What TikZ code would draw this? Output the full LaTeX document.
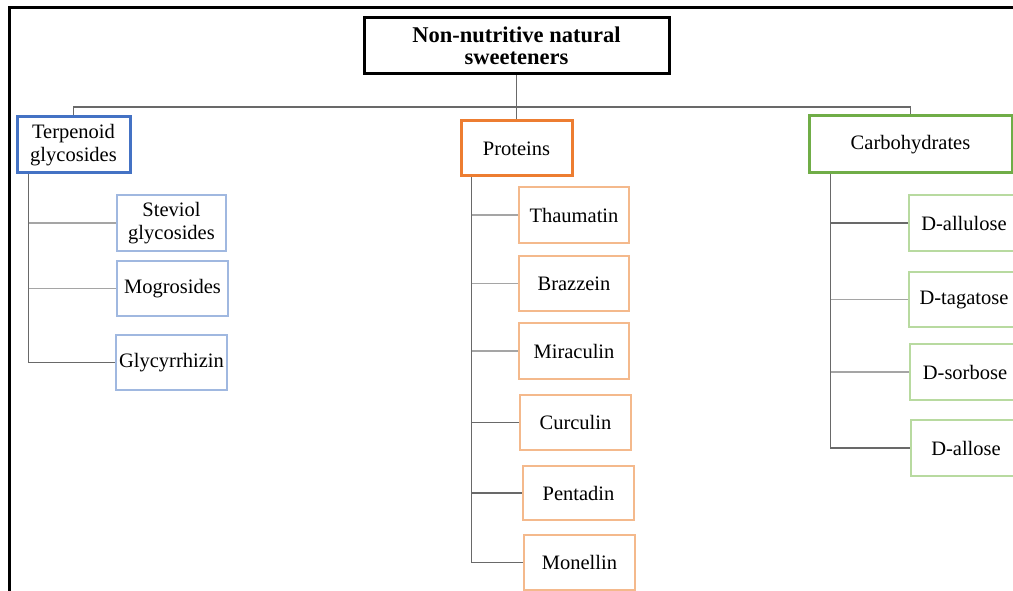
\documentclass[tikz,border=0pt]{standalone}
\usepackage{fontspec}
\setmainfont{Liberation Serif}
\usepackage{tikz}
\definecolor{catblue}{RGB}{68,114,196}
\definecolor{catorange}{RGB}{237,125,49}
\definecolor{catgreen}{RGB}{112,173,71}
\definecolor{leafblue}{RGB}{160,184,224}
\definecolor{leaforange}{RGB}{244,185,140}
\definecolor{leafgreen}{RGB}{184,218,160}
\definecolor{linkdark}{RGB}{105,105,105}
\definecolor{linklight}{RGB}{165,165,165}

\begin{document}
\begin{tikzpicture}[x=1pt, y=-1pt,
    txt/.style={font=\fontsize{20.5}{23}\selectfont},
    cat/.style={draw, txt, line width=3pt, inner sep=0pt, align=center},
    leaf/.style={draw, txt, line width=1.6pt, inner sep=0pt, align=center,
                 minimum width=110pt, minimum height=55pt},
    link/.style={draw=linkdark, line width=1.9pt},
    lightlink/.style={draw=linklight, line width=1.9pt}]
  \clip (0,0) rectangle (1013,591);
  \draw[line width=3pt] (9,591) -- (9,8) -- (1013,8);

  \node[cat, minimum width=305pt, minimum height=56pt,
        font=\fontsize{22.5}{22}\selectfont\bfseries] (root) at (516.5,46)
        {Non-nutritive natural\\sweeteners};
  \node[cat, draw=catblue, minimum width=113pt, minimum height=56pt] (terp) at (73.5,145)
        {Terpenoid\\glycosides};
  \node[cat, draw=catorange, minimum width=111pt, minimum height=55pt] (prot) at (516.5,148.5)
        {Proteins};
  \node[cat, draw=catgreen, minimum width=203pt, minimum height=57pt] (carb) at (910.5,144.5)
        {Carbohydrates};

  \node[leaf, draw=leafblue, minimum width=109pt, minimum height=56pt] (stev) at (171.5,223)
        {Steviol\\glycosides};
  \node[leaf, draw=leafblue, minimum width=111pt] (mogr) at (172.5,288.5) {Mogrosides};
  \node[leaf, draw=leafblue, minimum width=111pt] (glyc) at (171.5,362.5) {Glycyrrhizin};

  \node[leaf, draw=leaforange, minimum height=56pt] (thau) at (574,215) {Thaumatin};
  \node[leaf, draw=leaforange] (braz) at (574,283.5) {Brazzein};
  \node[leaf, draw=leaforange, minimum height=56pt] (mira) at (574,351) {Miraculin};
  \node[leaf, draw=leaforange, minimum width=111pt] (curc) at (575.5,422.5) {Curculin};
  \node[leaf, draw=leaforange, minimum width=111pt, minimum height=54pt] (pent) at (578.5,493) {Pentadin};
  \node[leaf, draw=leaforange, minimum width=111pt] (mone) at (579.5,562.5) {Monellin};

  \node[leaf, draw=leafgreen, minimum height=56pt] (allu) at (964,223) {D-allulose};
  \node[leaf, draw=leafgreen] (taga) at (964,299.5) {D-tagatose};
  \node[leaf, draw=leafgreen, minimum height=56pt] (sorb) at (965,372) {D-sorbose};
  \node[leaf, draw=leafgreen, minimum height=56pt] (allo) at (966,448) {D-allose};

  \coordinate (bus) at (516.5,107);
  \coordinate (tspine) at ([xshift=13pt]terp.south west);
  \coordinate (pspine) at ([xshift=12pt]prot.south west);
  \coordinate (cspine) at ([xshift=23pt]carb.south west);

  \draw[link] (root) -- (prot);
  \draw[link] (terp.north) |- (bus) -| (carb.north);

  \draw[link] (tspine) |- (glyc.west);
  \draw[lightlink] (tspine |- stev.west) -- (stev.west);
  \draw[lightlink] (tspine |- mogr.west) -- (mogr.west);

  \draw[link] (pspine) |- (mone.west);
  \draw[lightlink] (pspine |- thau.west) -- (thau.west);
  \draw[lightlink] (pspine |- braz.west) -- (braz.west);
  \draw[lightlink] (pspine |- mira.west) -- (mira.west);
  \draw[link] (pspine |- curc.west) -- (curc.west);
  \draw[link] (pspine |- pent.west) -- (pent.west);

  \draw[link] (cspine) |- (allo.west);
  \draw[link] (cspine |- allu.west) -- (allu.west);
  \draw[lightlink] (cspine |- taga.west) -- (taga.west);
  \draw[lightlink] (cspine |- sorb.west) -- (sorb.west);
\end{tikzpicture}
\end{document}
